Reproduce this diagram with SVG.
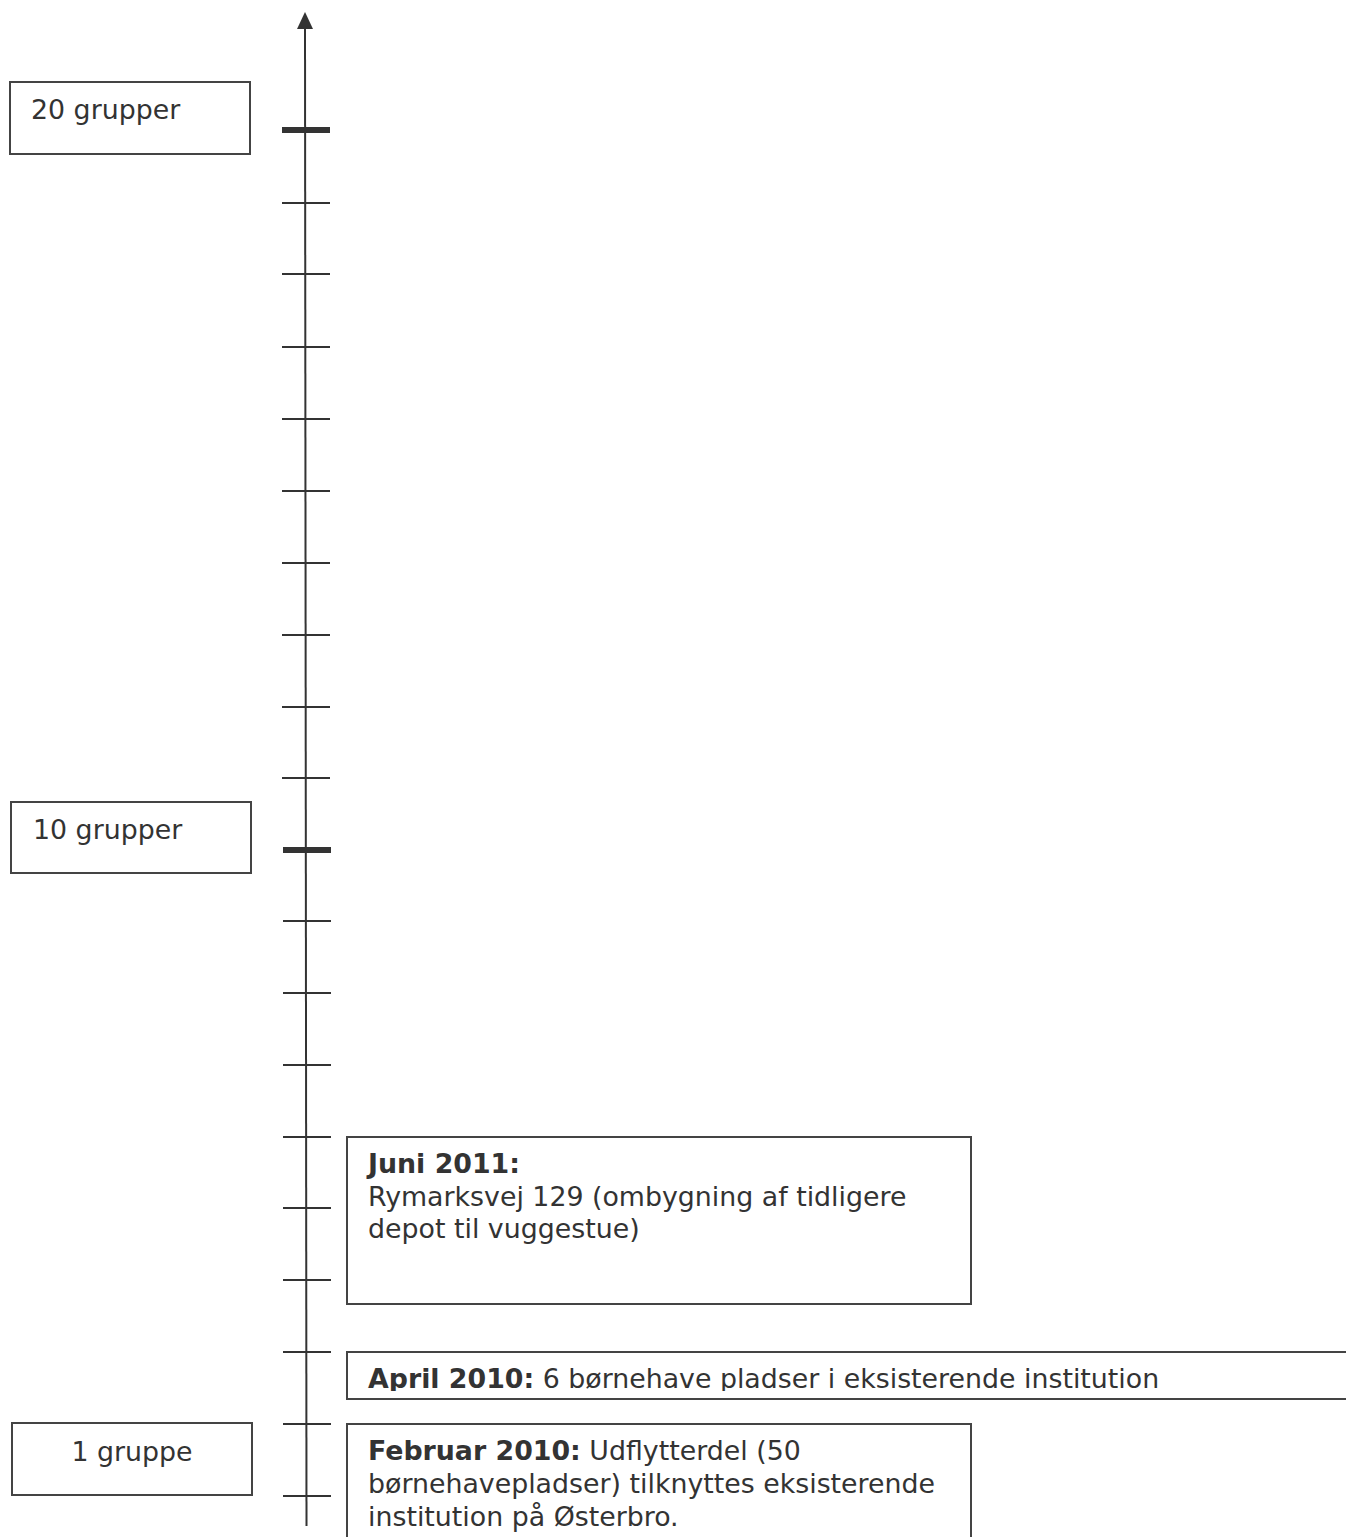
<svg xmlns="http://www.w3.org/2000/svg" width="1346" height="1537" viewBox="0 0 1346 1537">
<style>
text{font-family:"DejaVu Sans","Verdana",sans-serif;font-size:26.8px;fill:#333}
.b{font-weight:bold}
.box{fill:#fff;stroke:#444;stroke-width:2}
.tick{stroke:#333;stroke-width:2}
.major{stroke:#333;stroke-width:6}
</style>
<defs>
<clipPath id="aprClip"><rect x="348" y="1353" width="1000" height="38"/></clipPath>
</defs>
<rect width="1346" height="1537" fill="#fff"/>
<g id="axis">
<line x1="305" y1="26" x2="306.5" y2="1526" stroke="#333" stroke-width="2"/>
<polygon points="305,12 297,29 313,29" fill="#333"/>
<line class="major" x1="282" y1="130" x2="330" y2="130"/>
<line class="tick" x1="282" y1="203" x2="330" y2="203"/>
<line class="tick" x1="282" y1="274" x2="330" y2="274"/>
<line class="tick" x1="282" y1="347" x2="330" y2="347"/>
<line class="tick" x1="282" y1="419" x2="330" y2="419"/>
<line class="tick" x1="282" y1="491" x2="330" y2="491"/>
<line class="tick" x1="282" y1="563" x2="330" y2="563"/>
<line class="tick" x1="282" y1="635" x2="330" y2="635"/>
<line class="tick" x1="282" y1="707" x2="330" y2="707"/>
<line class="tick" x1="282" y1="778" x2="330" y2="778"/>
<line class="major" x1="283" y1="850" x2="331" y2="850"/>
<line class="tick" x1="283" y1="921" x2="331" y2="921"/>
<line class="tick" x1="283" y1="993" x2="331" y2="993"/>
<line class="tick" x1="283" y1="1065" x2="331" y2="1065"/>
<line class="tick" x1="283" y1="1137" x2="331" y2="1137"/>
<line class="tick" x1="283" y1="1208" x2="331" y2="1208"/>
<line class="tick" x1="283" y1="1280" x2="331" y2="1280"/>
<line class="tick" x1="283" y1="1352" x2="331" y2="1352"/>
<line class="tick" x1="283" y1="1424" x2="331" y2="1424"/>
<line class="tick" x1="283" y1="1496" x2="331" y2="1496"/>
</g>
<g id="label20">
<rect class="box" x="10" y="82" width="240" height="72"/>
<text x="31" y="119">20 grupper</text>
</g>
<g id="label10">
<rect class="box" x="11" y="802" width="240" height="71"/>
<text x="33" y="839">10 grupper</text>
</g>
<g id="label1">
<rect class="box" x="12" y="1423" width="240" height="72"/>
<text x="132" y="1461" text-anchor="middle">1 gruppe</text>
</g>
<g id="juni2011">
<rect class="box" x="347" y="1137" width="624" height="167"/>
<text x="368" y="1173" class="b">Juni 2011:</text>
<text x="368" y="1206">Rymarksvej 129 (ombygning af tidligere</text>
<text x="368" y="1238">depot til vuggestue)</text>
</g>
<g id="april2010">
<rect class="box" x="347" y="1352" width="1010" height="47"/>
<text x="368" y="1388" clip-path="url(#aprClip)"><tspan class="b">April 2010:</tspan> 6 børnehave pladser i eksisterende institution</text>
</g>
<g id="februar2010">
<rect class="box" x="347" y="1424" width="624" height="130"/>
<text x="368" y="1460"><tspan class="b">Februar 2010:</tspan> Udflytterdel (50</text>
<text x="368" y="1493">børnehavepladser) tilknyttes eksisterende</text>
<text x="368" y="1526">institution på Østerbro.</text>
</g>
<g id="connectors"></g>
</svg>
